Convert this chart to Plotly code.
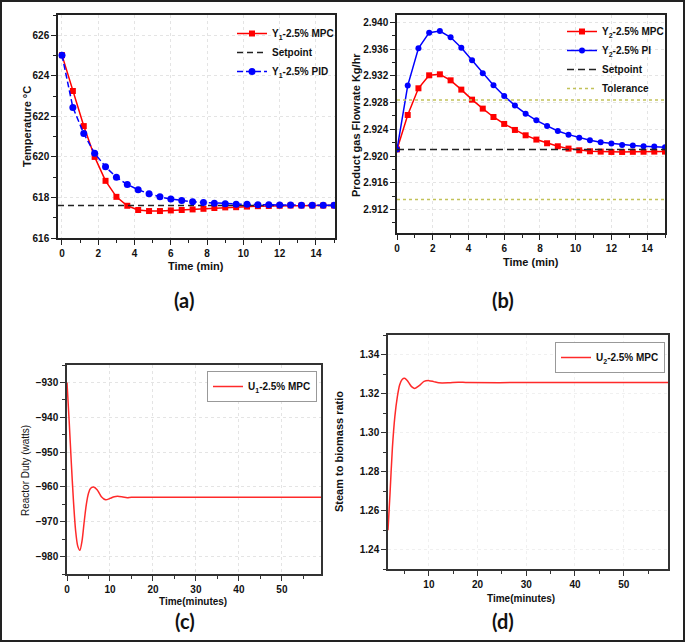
import plotly.graph_objects as go

# ---------------- data ----------------
time_ab = [0, 0.6, 1.2, 1.8, 2.4, 3.0, 3.6, 4.2, 4.8, 5.4, 6.0, 6.6, 7.2, 7.8, 8.4,
           9.0, 9.6, 10.2, 10.8, 11.4, 12.0, 12.6, 13.2, 13.8, 14.4, 15.0]

y1_mpc = [625.02, 623.25, 621.52, 620.0, 618.82, 618.03, 617.59, 617.38, 617.33, 617.33,
          617.36, 617.38, 617.41, 617.44, 617.48, 617.51, 617.52, 617.55, 617.57, 617.58,
          617.59, 617.6, 617.6, 617.6, 617.6, 617.6]
y1_pid = [625.02, 622.44, 621.15, 620.18, 619.51, 619.0, 618.64, 618.38, 618.18, 618.03,
          617.92, 617.85, 617.79, 617.75, 617.72, 617.69, 617.67, 617.66, 617.64, 617.64,
          617.63, 617.63, 617.62, 617.62, 617.61, 617.61]
y1_setpoint = 617.6

y2_mpc = [2.921, 2.92615, 2.93014, 2.93208, 2.93223, 2.93133, 2.92994, 2.92844, 2.9271,
          2.92585, 2.92481, 2.92391, 2.92311, 2.92247, 2.92192, 2.92147, 2.92112, 2.92087,
          2.92072, 2.92067, 2.92062, 2.92062, 2.92064, 2.92065, 2.92067, 2.92067]
y2_pi = [2.921, 2.93054, 2.93611, 2.93846, 2.9387, 2.93776, 2.93621, 2.93432, 2.93238,
         2.93059, 2.929, 2.92755, 2.92635, 2.92535, 2.92451, 2.92376, 2.92321, 2.92276,
         2.92237, 2.92207, 2.92187, 2.92167, 2.92157, 2.92147, 2.92142, 2.92132]
y2_setpoint = 2.921
y2_tol_upper = 2.9284
y2_tol_lower = 2.9135

time_c = [0, 0.5, 1.0, 1.5, 2.0, 2.5, 3.0, 3.5, 4.0, 4.5, 5.0, 5.5, 6.2, 7.0, 7.5, 8.0,
          9.0, 10.0, 11.0, 11.8, 13.0, 14.0, 15.0, 20.0, 30.0, 40.0, 50.0, 59.1]
u1_mpc = [-930.0, -941.0, -953.0, -964.0, -972.5, -977.0, -978.2, -975.5, -970.0, -965.0,
          -961.8, -960.4, -960.0, -960.8, -961.8, -962.8, -963.7, -963.3, -962.8, -962.7,
          -962.9, -963.1, -963.0, -963.0, -963.0, -963.0, -963.0, -963.0]

time_d = [1.6, 2.0, 2.5, 3.0, 3.5, 4.0, 4.5, 5.0, 5.5, 6.0, 6.5, 7.1, 8.0, 9.0, 10.0, 11.0,
          12.0, 14.0, 16.0, 18.0, 30.0, 40.0, 50.0, 59.1]
u2_mpc = [1.2499, 1.268, 1.292, 1.308, 1.318, 1.3245, 1.3272, 1.3278, 1.3268, 1.325, 1.3234,
          1.3226, 1.324, 1.3262, 1.3266, 1.3261, 1.3255, 1.3255, 1.3258, 1.3256, 1.3256,
          1.3256, 1.3256, 1.3256]

x_range_a = [-0.22, 15.05]
y_range_a = [616, 627]
x_range_b = [0, 15]
y_range_b = [2.9085, 2.9411]
x_range_c = [0, 59.1]
y_range_c = [-985, -925]
x_range_d = [1.6, 59.1]
y_range_d = [1.23, 1.35]

# ---------------- figure ----------------
W, H = 685, 642
RED = "#ff0000"
BLUE = "#0000ff"
TICKFONT = dict(family="Liberation Sans, Arial", size=10, color="#111", weight="bold")
LEGFONT = dict(family="Liberation Sans, Arial", size=10, color="#111", weight="bold")

fig = go.Figure()

# (a)
fig.add_trace(go.Scatter(x=time_ab, y=y1_mpc, mode="lines+markers", name="Y<sub>1</sub>-2.5% MPC",
                         line=dict(color=RED, width=1.5), marker=dict(symbol="square", size=6, color=RED),
                         xaxis="x", yaxis="y", legend="legend"))
fig.add_trace(go.Scatter(x=x_range_a, y=[y1_setpoint, y1_setpoint], mode="lines", name="Setpoint",
                         line=dict(color="#222", width=1.5, dash="6px,4px"),
                         xaxis="x", yaxis="y", legend="legend"))
fig.add_trace(go.Scatter(x=time_ab, y=y1_pid, mode="lines+markers", name="Y<sub>1</sub>-2.5% PID",
                         line=dict(color=BLUE, width=1.5, dash="6px,3px"), marker=dict(symbol="circle", size=7, color=BLUE),
                         xaxis="x", yaxis="y", legend="legend"))

# (b)
fig.add_trace(go.Scatter(x=time_ab, y=y2_mpc, mode="lines+markers", name="Y<sub>2</sub>-2.5% MPC",
                         line=dict(color=RED, width=1.5), marker=dict(symbol="square", size=6, color=RED),
                         xaxis="x2", yaxis="y2", legend="legend2"))
fig.add_trace(go.Scatter(x=time_ab, y=y2_pi, mode="lines+markers", name="Y<sub>2</sub>-2.5% PI",
                         line=dict(color=BLUE, width=1.5), marker=dict(symbol="circle", size=6, color=BLUE),
                         xaxis="x2", yaxis="y2", legend="legend2"))
fig.add_trace(go.Scatter(x=x_range_b, y=[y2_setpoint, y2_setpoint], mode="lines", name="Setpoint",
                         line=dict(color="#222", width=1.5, dash="7px,4px"),
                         xaxis="x2", yaxis="y2", legend="legend2"))
fig.add_trace(go.Scatter(x=[x_range_b[0], x_range_b[1], None, x_range_b[0], x_range_b[1]],
                         y=[y2_tol_upper, y2_tol_upper, None, y2_tol_lower, y2_tol_lower],
                         mode="lines", name="Tolerance",
                         line=dict(color="#c2c25a", width=1.4, dash="dot"),
                         xaxis="x2", yaxis="y2", legend="legend2"))

# (c)
fig.add_trace(go.Scatter(x=time_c, y=u1_mpc, mode="lines", name="U<sub>1</sub>-2.5% MPC",
                         line=dict(color="#ff2a2a", width=1.5, shape="spline", smoothing=0.8),
                         xaxis="x3", yaxis="y3", legend="legend3"))
# (d)
fig.add_trace(go.Scatter(x=time_d, y=u2_mpc, mode="lines", name="U<sub>2</sub>-2.5% MPC",
                         line=dict(color="#ff2a2a", width=1.5, shape="spline", smoothing=0.8),
                         xaxis="x4", yaxis="y4", legend="legend4"))


def axis(domain, rng, dtick, minor, anchor, tickformat=None, tick0=None, linecolor="#222", grid="#e4e4e4"):
    d = dict(domain=domain, range=rng, dtick=dtick, anchor=anchor, showline=True, mirror=True,
             linecolor=linecolor, linewidth=1.5, ticks="outside", ticklen=5, tickwidth=1.2,
             tickcolor=linecolor, tickfont=TICKFONT, showgrid=True, gridcolor=grid, griddash="dot",
             gridwidth=1, zeroline=False, automargin=False,
             minor=dict(ticks="outside", dtick=minor, ticklen=3, tickcolor=linecolor, showgrid=False))
    if tickformat:
        d["tickformat"] = tickformat
    if tick0 is not None:
        d["tick0"] = tick0
    return d


def px_x(a, b):
    return [a / W, b / W]


def px_y(top, bottom):
    return [1 - bottom / H, 1 - top / H]


fig.update_layout(
    width=W, height=H, template="none",
    margin=dict(l=0, r=0, t=0, b=0),
    paper_bgcolor="white", plot_bgcolor="white",
    xaxis=axis(px_x(58, 335), x_range_a, 2, 1, "y"),
    yaxis=axis(px_y(15, 238), y_range_a, 2, 1, "x"),
    xaxis2=axis(px_x(397, 665), x_range_b, 2, 1, "y2"),
    yaxis2=axis(px_y(15, 233), y_range_b, 0.004, 0.002, "x2", tickformat=".3f", tick0=2.912),
    xaxis3=axis(px_x(67, 321), x_range_c, 10, 5, "y3", linecolor="#333"),
    yaxis3=axis(px_y(365, 574), y_range_c, 10, 5, "x3", linecolor="#333"),
    xaxis4=axis(px_x(388, 668), x_range_d, 10, 5, "y4", tick0=0, linecolor="#333", grid="#f0f0f0"),
    yaxis4=axis(px_y(335, 569), y_range_d, 0.02, 0.01, "x4", tickformat=".2f", tick0=1.24, linecolor="#333", grid="#f0f0f0"),
    legend=dict(x=232 / W, y=1 - 19 / H, xanchor="left", yanchor="top", font=LEGFONT,
                bgcolor="rgba(255,255,255,0)", tracegroupgap=0, itemwidth=30),
    legend2=dict(x=562 / W, y=1 - 17 / H, xanchor="left", yanchor="top", font=LEGFONT,
                 bgcolor="rgba(255,255,255,0)", tracegroupgap=0, itemwidth=30),
    legend3=dict(x=207 / W, y=1 - 371 / H, xanchor="left", yanchor="top", font=LEGFONT,
                 bgcolor="white", bordercolor="#999", borderwidth=1, itemwidth=30),
    legend4=dict(x=555 / W, y=1 - 342 / H, xanchor="left", yanchor="top", font=LEGFONT,
                 bgcolor="white", bordercolor="#999", borderwidth=1, itemwidth=30),
    showlegend=True,
)

TITLEFONT = dict(family="Liberation Sans, Arial", size=11, color="#111", weight="bold")
PANELFONT = dict(family="Lato, Open Sans", size=20, color="#111", weight="bold")


def ann(text, x, y, font, angle=0):
    fig.add_annotation(text=text, x=x / W, y=1 - y / H, xref="paper", yref="paper",
                       showarrow=False, font=font, textangle=angle, xanchor="center", yanchor="middle")


ann("Temperature °C", 27, 127, TITLEFONT, -90)
ann("Time (min)", 196, 266, TITLEFONT)
ann("Product gas Flowrate Kg/hr", 356, 125, TITLEFONT, -90)
ann("Time (min)", 531, 262, TITLEFONT)
ann("Reactor Duty (watts)", 25, 470, dict(TITLEFONT, size=10, weight="normal"), -90)
ann("Time(minutes)", 193, 601, dict(TITLEFONT, size=10))
ann("Steam to biomass ratio", 339, 452, TITLEFONT, -90)
ann("Time(minutes)", 521, 598, dict(TITLEFONT, size=10))

ann("(a)", 184, 300, PANELFONT)
ann("(b)", 503, 300, PANELFONT)
ann("(c)", 185, 621, PANELFONT)
ann("(d)", 503, 621, PANELFONT)

fig.add_shape(type="rect", xref="paper", yref="paper", x0=1 / W, x1=1 - 1 / W, y0=1 / H, y1=1 - 1 / H,
              line=dict(color="#222", width=2))

fig.write_html("out.html", config={"displayModeBar": False},
               post_script="document.body.style.margin='0px';document.body.style.overflow='hidden';")
